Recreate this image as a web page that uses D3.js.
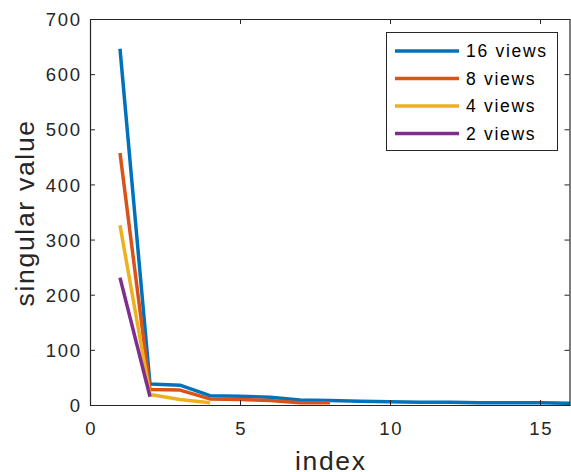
<!DOCTYPE html>
<html><head><meta charset="utf-8">
<script src="https://cdn.jsdelivr.net/npm/d3@7"></script>
<style>body{margin:0;background:#fff}svg{display:block}text{font-family:"Liberation Sans",Arial,Helvetica,sans-serif;fill:#262626}</style>
</head><body>
<script>
const seriesNames = ["16 views","8 views","4 views","2 views"];
const seriesColors = ["#0072BD","#D95319","#EDB120","#7E2F8E"];
const views16 = [646, 38, 36, 17, 16, 14, 9, 8, 7, 6, 5, 5, 4, 4, 4, 3];
const views8 = [457, 28, 27, 11, 10, 8, 4, 4];
const views4 = [326, 19, 10, 4];
const views2 = [231, 15];
const xTicks = [0, 5, 10, 15];
const yTicks = [0, 100, 200, 300, 400, 500, 600, 700];
const allSeries = [views16, views8, views4, views2];

(function(){
const W = 571, H = 472;
const m = {l: 90, r: 1, t: 19, b: 67};
const svg = d3.select("body").append("svg").attr("width", W).attr("height", H);
const x = d3.scaleLinear().domain([0, 16]).range([m.l, W - m.r]);
const y = d3.scaleLinear().domain([0, 700]).range([H - m.b, m.t]);
const axCol = "#262626";
const ls = 1.7;

svg.append("clipPath").attr("id","c").append("rect")
  .attr("x", m.l).attr("y", m.t).attr("width", x(16)-m.l).attr("height", y(0)-m.t);

const line = d3.line().x((d,i)=>x(i+1)).y(d=>y(d));
const g = svg.append("g").attr("clip-path","url(#c)");
allSeries.forEach((s,k)=>{
  g.append("path").datum(s).attr("d", line).attr("fill","none")
    .attr("stroke", seriesColors[k]).attr("stroke-width", 3.5).attr("stroke-linejoin","round");
});

const tl = 5;
const fs = 18.5;
const axB = svg.append("g").attr("transform", `translate(0,${y(0)})`)
  .call(d3.axisBottom(x).tickValues(xTicks).tickSize(-tl).tickSizeOuter(0));
const axT = svg.append("g").attr("transform", `translate(0,${y(700)})`)
  .call(d3.axisTop(x).tickValues(xTicks).tickSize(-tl).tickFormat("").tickSizeOuter(0));
const axL = svg.append("g").attr("transform", `translate(${x(0)},0)`)
  .call(d3.axisLeft(y).tickValues(yTicks).tickSize(-tl).tickSizeOuter(0));
const axR = svg.append("g").attr("transform", `translate(${x(16)-0.5},0)`)
  .call(d3.axisRight(y).tickValues(yTicks).tickSize(-tl).tickFormat("").tickSizeOuter(0));
[axB, axT, axL, axR].forEach(a=>{
  a.selectAll("path.domain").attr("stroke", axCol).attr("stroke-width", 1.2);
  a.selectAll(".tick line").attr("stroke", axCol).attr("stroke-width", 1);
  a.selectAll("text").attr("font-size", fs).attr("fill", axCol)
    .style("font-family", '"Liberation Sans",Arial,sans-serif')
    .style("letter-spacing", ls + "px");
});
axB.selectAll("text").attr("y", 30).attr("dy", "0").attr("dx", ls/2);
axL.selectAll("text").attr("x", -10 + ls).attr("dy", "0.36em");

svg.append("text").attr("x", (x(0)+x(16))/2 + ls/2).attr("y", 470).attr("text-anchor","middle")
  .attr("font-size", 26.5).style("letter-spacing", ls+"px").text("index");
svg.append("text").attr("transform", `translate(34,${(y(0)+y(700))/2 + ls/2}) rotate(-90)`)
  .attr("text-anchor","middle").attr("font-size", 26.5).style("letter-spacing", ls+"px").text("singular value");

const lg = svg.append("g");
lg.append("rect").attr("x", 386.5).attr("y", 32.5).attr("width", 171).attr("height", 118)
  .attr("fill","#fff").attr("stroke", axCol).attr("stroke-width", 1);
seriesNames.forEach((n,k)=>{
  const yy = 51 + k*27.5;
  lg.append("line").attr("x1", 395).attr("x2", 459).attr("y1", yy).attr("y2", yy)
    .attr("stroke", seriesColors[k]).attr("stroke-width", 3.5);
  lg.append("text").attr("x", 466).attr("y", yy).attr("dy","0.35em").attr("font-size", 17.5)
    .style("letter-spacing", ls+"px").style("fill","#000").text(n);
});
})();
</script>
</body></html>
